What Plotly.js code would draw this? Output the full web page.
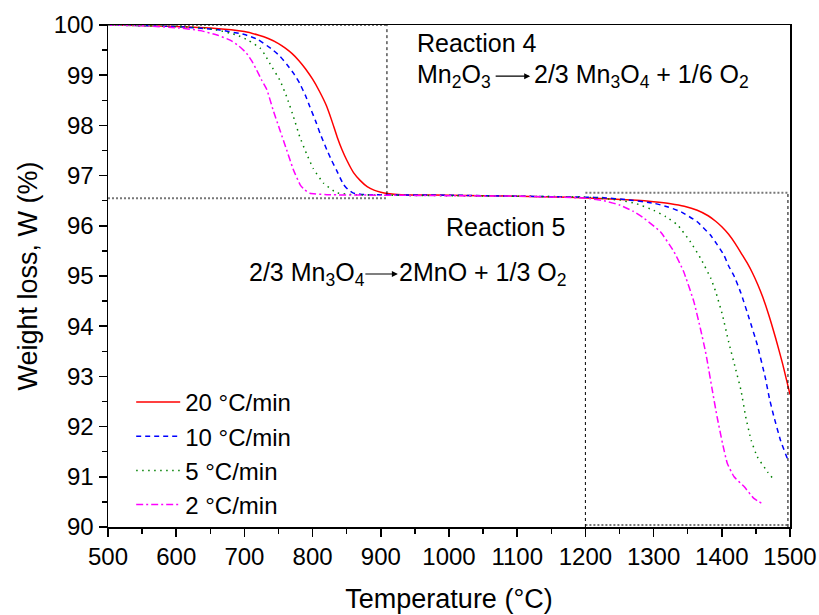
<!DOCTYPE html>
<html>
<head>
<meta charset="utf-8">
<script src="https://cdn.plot.ly/plotly-3.0.1.min.js"></script>
<style>html,body{margin:0;padding:0;background:#fff;}#chart{width:819px;height:615px;}</style>
</head>
<body>
<div id="chart"></div>
<script>
// ---- data ----
const seriesNames = ["20 °C/min", "10 °C/min", "5 °C/min", "2 °C/min"];

const tRed = [500,550,600,650,700,720,735,750,760,770,780,790,800,810,820,828,836,843,850,860,870,880,890,900,910,930,1000,1100,1177,1230,1276,1300,1325,1345,1364,1380,1391,1400,1410,1420,1430,1438,1445,1453,1460,1469,1479,1489,1500];
const wRed = [100.00,99.99,99.97,99.94,99.87,99.80,99.73,99.63,99.54,99.43,99.29,99.12,98.92,98.68,98.40,98.10,97.77,97.52,97.31,97.06,96.90,96.78,96.71,96.67,96.645,96.62,96.61,96.59,96.57,96.54,96.51,96.48,96.44,96.39,96.31,96.20,96.09,95.98,95.83,95.64,95.42,95.24,95.06,94.82,94.58,94.22,93.76,93.26,92.64];

const tBlue = [500,550,600,664,700,720,742,752,762,772,781,790,796,804,811,821,828,835,845,852,860,870,880,1000,1100,1200,1227,1260,1300,1320,1340,1364,1383,1393,1403,1410,1418,1428,1440,1452,1464,1470,1476,1486,1496,1499];
const wBlue = [100.00,99.99,99.97,99.90,99.81,99.71,99.50,99.38,99.22,99.04,98.84,98.58,98.37,98.10,97.84,97.51,97.30,97.11,96.83,96.72,96.65,96.63,96.62,96.61,96.59,96.57,96.56,96.52,96.45,96.38,96.28,96.08,95.82,95.63,95.42,95.20,95.00,94.66,94.16,93.63,92.96,92.55,92.22,91.73,91.37,91.30];

const tGreen = [500,600,635,660,689,705,723,730,737,752,762,772,781,791,801,816,835,860,900,1000,1100,1200,1251,1275,1300,1318,1335,1354,1369,1384,1391,1401,1410,1420,1428,1435,1443,1452,1467,1477];
const wGreen = [100.00,99.97,99.95,99.90,99.80,99.70,99.54,99.41,99.24,98.90,98.57,98.17,97.78,97.44,97.14,96.85,96.66,96.62,96.61,96.60,96.59,96.57,96.51,96.44,96.31,96.18,96.02,95.68,95.35,94.95,94.69,94.22,93.69,93.16,92.73,92.20,91.73,91.40,91.10,90.93];

const tMag = [500,560,605,635,660,679,692,703,711,718,725,733,742,752,762,772,782,788,796,821,900,1000,1100,1202,1230,1251,1270,1286,1310,1330,1344,1359,1369,1376,1379,1386,1393,1401,1408,1418,1433,1447,1460];
const wMag = [100.00,99.98,99.94,99.89,99.80,99.70,99.58,99.44,99.28,99.10,98.91,98.71,98.31,97.91,97.51,97.11,96.81,96.72,96.65,96.62,96.61,96.60,96.59,96.55,96.49,96.41,96.29,96.15,95.88,95.48,95.09,94.49,93.93,93.50,93.28,92.73,92.20,91.67,91.27,91.00,90.80,90.57,90.46];

const xTickVals = [500,600,700,800,900,1000,1100,1200,1300,1400,1500];
const yTickVals = [90,91,92,93,94,95,96,97,98,99,100];

const FONT = "Liberation Sans, Arial, sans-serif";

const traces = [
  {x:tRed, y:wRed, name:seriesNames[0], mode:"lines", line:{color:"#ff0000", width:1.5, shape:"spline", smoothing:0.5}},
  {x:tBlue, y:wBlue, name:seriesNames[1], mode:"lines", line:{color:"#0000ff", width:1.5, dash:"5px,4px", shape:"spline", smoothing:0.4}},
  {x:tGreen, y:wGreen, name:seriesNames[2], mode:"lines", line:{color:"#008000", width:1.5, dash:"1.5px,4.5px", shape:"spline", smoothing:0.4}},
  {x:tMag, y:wMag, name:seriesNames[3], mode:"lines", line:{color:"#ff00ff", width:1.5, dash:"7px,3px,2px,3px", shape:"spline", smoothing:0.4}}
];

const grayDot = {color:"#777777", width:2, dash:"2px,2px"};
const blackDash = {color:"#000000", width:1, dash:"3px,3px"};

const shapes = [
  // Reaction 4 box
  {type:"line", xref:"x", yref:"y", x0:500, x1:909, y0:100, y1:100, line:grayDot},
  {type:"line", xref:"x", yref:"y", x0:500, x1:909, y0:96.55, y1:96.55, line:grayDot},
  {type:"line", xref:"x", yref:"y", x0:498, x1:498, y0:96.55, y1:100, line:grayDot},
  {type:"line", xref:"x", yref:"y", x0:909, x1:909, y0:96.63, y1:100, line:blackDash},
  // Reaction 5 box
  {type:"line", xref:"x", yref:"y", x0:1200, x1:1497, y0:96.66, y1:96.66, line:grayDot},
  {type:"line", xref:"x", yref:"y", x0:1200, x1:1497, y0:90.04, y1:90.04, line:grayDot},
  {type:"line", xref:"x", yref:"y", x0:1200, x1:1200, y0:90, y1:96.57, line:blackDash},
  {type:"line", xref:"x", yref:"y", x0:1497, x1:1497, y0:90, y1:96.66, line:blackDash}
];

const tf = {family:FONT, size:25, color:"#000"};
const annotations = [
  {x:950, y:99.64, xref:"x", yref:"y", text:"Reaction 4", showarrow:false, xanchor:"left", yanchor:"middle", font:tf},
  {x:950, y:98.99, xref:"x", yref:"y", text:"Mn<sub>2</sub>O<sub>3</sub>", showarrow:false, xanchor:"left", yanchor:"middle", font:tf},
  {x:1119, y:98.98, xref:"x", yref:"y", ax:-36, ay:0, axref:"pixel", ayref:"pixel", text:"", showarrow:true, arrowhead:2, arrowsize:1, arrowwidth:1.2, arrowcolor:"#000"},
  {x:1122, y:98.99, xref:"x", yref:"y", text:"2/3 Mn<sub>3</sub>O<sub>4</sub> + 1/6 O<sub>2</sub>", showarrow:false, xanchor:"left", yanchor:"middle", font:tf},
  {x:1174, y:95.97, xref:"x", yref:"y", text:"Reaction 5", showarrow:false, xanchor:"right", yanchor:"middle", font:tf},
  {x:704, y:95.04, xref:"x", yref:"y", text:"2/3 Mn<sub>3</sub>O<sub>4</sub>", showarrow:false, xanchor:"left", yanchor:"middle", font:tf},
  {x:925, y:95.04, xref:"x", yref:"y", ax:-34, ay:0, axref:"pixel", ayref:"pixel", text:"", showarrow:true, arrowhead:2, arrowsize:1, arrowwidth:1.2, arrowcolor:"#000"},
  {x:1174, y:95.04, xref:"x", yref:"y", text:"2MnO + 1/3 O<sub>2</sub>", showarrow:false, xanchor:"right", yanchor:"middle", font:tf}
];

const layout = {
  width:819, height:615,
  margin:{l:108, r:29, t:25, b:88},
  paper_bgcolor:"#fff", plot_bgcolor:"#fff",
  font:{family:FONT, size:24, color:"#000"},
  showlegend:true,
  legend:{x:0.034, y:0.293, xanchor:"left", yanchor:"top", bgcolor:"rgba(0,0,0,0)", borderwidth:0, font:{family:FONT, size:24, color:"#000"}, tracegroupgap:0, itemwidth:44},
  xaxis:{
    range:[500,1500], tickvals:xTickVals, ticktext:xTickVals.map(String),
    showgrid:false, zeroline:false, showline:true, linecolor:"#000", linewidth:1.5, mirror:true,
    ticks:"outside", ticklen:8, tickwidth:1.5, tickcolor:"#000",
    minor:{dtick:50, ticks:"outside", ticklen:5, tickwidth:1.5, tickcolor:"#000"},
    tickfont:{family:FONT, size:24, color:"#000"},
    title:{text:"Temperature (°C)", font:{family:FONT, size:27, color:"#000"}, standoff:20}
  },
  yaxis:{
    range:[90,100], tickvals:yTickVals, ticktext:yTickVals.map(String),
    showgrid:false, zeroline:false, showline:true, linecolor:"#000", linewidth:1.5, mirror:true,
    ticks:"outside", ticklen:8, tickwidth:1.5, tickcolor:"#000",
    minor:{dtick:0.5, ticks:"outside", ticklen:5, tickwidth:1.5, tickcolor:"#000"},
    tickfont:{family:FONT, size:24, color:"#000"},
    title:{text:"Weight loss, W (%)", font:{family:FONT, size:27, color:"#000"}, standoff:8}
  },
  shapes:shapes,
  annotations:annotations
};

Plotly.newPlot("chart", traces, layout, {displayModeBar:false, staticPlot:true});
</script>
</body>
</html>
